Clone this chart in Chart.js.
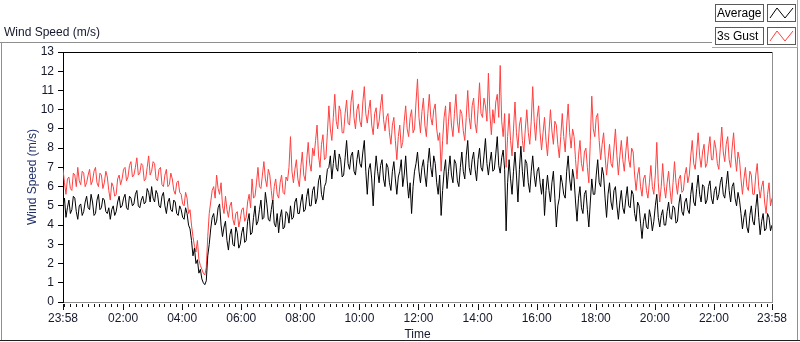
<!DOCTYPE html>
<html>
<head>
<meta charset="utf-8">
<script src="https://cdn.jsdelivr.net/npm/chart.js@4.4.0/dist/chart.umd.min.js"></script>
<style>
  html, body { margin: 0; padding: 0; background: #fff; }
  #wrap { position: relative; width: 800px; height: 342px; }
</style>
</head>
<body>
<div id="wrap"><canvas id="windChart" width="800" height="342"></canvas></div>
<script>
// ===== DATA =====
// one sample every 3 minutes, starting at 23:58
const stepMinutes = 3;
const seriesNames = ['Average', '3s Gust'];
const majorTickMinutes = [0, 122, 242, 362, 482, 602, 722, 842, 962, 1082, 1202, 1322, 1440];
const majorTickLabels = ['23:58', '02:00', '04:00', '06:00', '08:00', '10:00', '12:00',
                         '14:00', '16:00', '18:00', '20:00', '22:00', '23:58'];

const avgSpeed = [
    5.0, 5.4, 4.4, 4.9, 5.3, 4.6, 4.8, 5.5, 5.4, 4.7, 4.3, 5.0, 5.1, 4.5, 4.7, 5.2, 5.5, 4.9, 4.8, 5.6,
    5.2, 4.5, 4.6, 5.3, 5.6, 4.8, 4.9, 5.4, 5.3, 4.7, 4.6, 4.9, 4.3, 4.8, 5.0, 4.5, 4.7, 5.2, 5.5, 4.9,
    5.0, 5.4, 5.6, 4.9, 4.8, 5.5, 5.4, 5.0, 5.1, 5.6, 5.8, 5.0, 4.9, 5.3, 5.5, 5.1, 5.2, 5.9, 5.7, 5.2,
    6.0, 5.4, 5.2, 5.8, 5.6, 5.0, 4.9, 5.5, 5.7, 5.0, 4.6, 5.2, 5.4, 4.8, 4.7, 5.3, 5.2, 4.6, 4.5, 5.0,
    4.8, 4.4, 4.3, 4.9, 4.6, 4.0, 3.8, 3.2, 2.4, 2.8, 2.0, 2.2, 1.5, 1.7, 1.2, 1.0, 0.9, 1.1, 2.4, 3.0,
    3.8, 4.4, 4.6, 4.0, 4.2, 4.9, 5.1, 4.0, 3.4, 3.9, 4.2, 3.2, 2.7, 3.5, 3.8, 3.0, 2.9, 3.9, 3.6, 2.8,
    3.0, 3.6, 3.9, 3.1, 3.2, 4.2, 4.6, 3.5, 3.6, 4.4, 5.0, 4.0, 4.2, 4.8, 5.3, 4.3, 4.4, 5.7, 5.1, 4.3,
    4.2, 4.8, 5.3, 4.1, 3.9, 4.6, 3.6, 4.4, 4.8, 3.8, 3.9, 4.7, 4.6, 4.1, 5.0, 4.3, 4.4, 5.2, 5.4, 4.6,
    4.6, 5.2, 5.6, 4.7, 4.8, 5.5, 5.9, 5.0, 5.0, 5.8, 6.0, 5.1, 5.4, 6.3, 6.6, 5.6, 5.3, 6.0, 6.2, 6.9,
    7.0, 7.6, 6.4, 7.2, 7.9, 7.0, 6.8, 7.7, 7.4, 6.5, 6.6, 7.5, 8.4, 7.2, 6.9, 7.6, 7.8, 6.8, 6.6, 7.4,
    7.9, 7.2, 7.0, 7.8, 8.4, 6.8, 5.6, 6.9, 7.2, 6.4, 5.0, 6.6, 7.6, 6.8, 6.2, 7.1, 7.4, 6.4, 6.0, 7.2,
    7.0, 6.2, 5.8, 6.8, 7.3, 6.4, 5.6, 6.5, 6.8, 7.4, 6.0, 6.6, 7.6, 6.3, 5.4, 6.2, 4.6, 6.0, 6.8, 7.2,
    7.8, 6.8, 6.2, 7.0, 7.4, 6.6, 6.0, 7.2, 8.0, 7.0, 6.5, 7.6, 7.2, 6.2, 5.6, 6.6, 4.5, 5.8, 6.8, 7.4,
    5.9, 6.8, 7.6, 6.6, 6.2, 7.4, 7.2, 6.3, 6.0, 7.0, 7.8, 6.8, 6.4, 7.6, 8.4, 7.0, 6.6, 7.4, 7.8, 6.9,
    6.3, 7.4, 8.0, 7.0, 6.8, 7.6, 8.5, 7.2, 6.6, 7.3, 7.8, 6.8, 6.9, 7.7, 8.6, 7.1, 6.7, 7.5, 7.9, 6.9,
    3.7, 6.2, 7.4, 6.4, 5.6, 6.8, 7.8, 6.6, 5.2, 6.9, 8.1, 6.8, 6.0, 7.4, 7.2, 6.2, 5.7, 6.8, 7.6, 6.6,
    6.0, 6.8, 7.0, 6.2, 5.6, 6.4, 4.5, 5.8, 6.6, 5.8, 5.2, 6.2, 6.8, 5.4, 3.9, 5.0, 5.4, 6.6, 6.2, 5.6,
    5.4, 6.8, 7.6, 6.4, 5.8, 6.9, 6.4, 5.2, 4.2, 5.4, 6.0, 4.9, 4.6, 5.6, 5.8, 4.8, 3.9, 5.2, 6.4, 5.6,
    5.6, 6.6, 7.4, 6.2, 6.0, 7.0, 6.6, 5.4, 4.4, 5.6, 6.2, 5.2, 4.8, 5.8, 6.0, 5.0, 4.3, 5.2, 5.8, 4.9,
    4.6, 5.4, 6.0, 5.0, 4.9, 5.8, 5.6, 4.6, 4.2, 5.2, 5.0, 4.1, 3.3, 4.2, 4.6, 3.9, 3.8, 4.8, 4.4, 3.7,
    4.2, 5.0, 5.6, 4.4, 3.9, 4.5, 4.8, 4.0, 4.0, 4.7, 5.2, 4.4, 4.3, 5.0, 4.9, 4.1, 4.2, 5.1, 5.6, 4.7,
    4.5, 5.2, 5.4, 4.8, 4.6, 5.6, 6.2, 5.2, 5.0, 5.9, 6.6, 5.6, 5.2, 6.1, 6.0, 5.1, 5.3, 6.0, 6.3, 5.4,
    5.1, 5.8, 6.0, 5.3, 5.6, 6.2, 6.5, 5.6, 5.4, 6.1, 6.8, 5.8, 5.2, 6.0, 6.2, 5.4, 5.0, 5.7, 5.3, 4.6,
    3.8, 4.4, 4.8, 3.9, 3.6, 4.5, 5.0, 4.2, 4.0, 4.9, 5.6, 4.4, 3.5, 4.2, 4.6, 3.7, 3.8, 4.6, 4.4, 3.7, 4.0
];

const gustSpeed = [
    6.9, 6.2, 5.6, 6.4, 6.5, 5.9, 5.8, 6.7, 6.6, 6.0, 7.0, 6.3, 6.1, 6.8, 6.7, 6.0, 6.2, 6.6, 6.9, 6.1,
    6.3, 6.8, 7.0, 6.2, 6.0, 6.7, 6.6, 5.9, 6.2, 6.8, 6.5, 5.8, 5.3, 6.2, 6.0, 5.5, 5.6, 6.4, 6.6, 6.1,
    6.4, 6.9, 7.0, 6.3, 6.5, 7.1, 7.3, 6.5, 6.6, 7.0, 7.5, 6.6, 6.7, 7.2, 7.1, 6.3, 6.4, 7.0, 7.6, 6.6,
    6.8, 7.3, 7.2, 6.4, 6.3, 6.9, 7.0, 6.1, 6.0, 6.6, 6.9, 6.0, 6.1, 6.7, 6.4, 5.8, 5.6, 6.2, 6.3, 5.7,
    5.6, 5.1, 5.0, 5.7, 5.4, 4.6, 4.8, 4.0, 3.4, 2.9, 2.6, 3.2, 2.2, 1.9, 1.7, 1.5, 1.4, 1.8, 3.4, 4.6,
    5.2, 5.8, 6.0, 5.4, 6.6, 5.9, 5.6, 6.2, 5.0, 4.6, 5.5, 4.8, 4.4, 5.0, 5.2, 4.3, 4.0, 4.6, 4.7, 3.9,
    4.3, 4.8, 4.9, 4.2, 4.4, 5.2, 5.6, 4.9, 6.4, 5.4, 5.5, 6.2, 7.0, 6.0, 5.9, 6.6, 7.3, 6.4, 6.0, 6.9,
    6.6, 5.8, 5.1, 6.0, 6.4, 5.6, 5.4, 6.2, 6.6, 5.7, 5.6, 6.5, 6.3, 7.0, 8.6, 6.8, 6.2, 6.9, 7.4, 6.4,
    6.0, 7.0, 7.8, 6.6, 6.3, 7.4, 8.3, 7.2, 6.8, 8.0, 7.6, 8.4, 9.2, 7.6, 7.0, 8.2, 8.7, 7.4, 7.5, 8.8,
    10.2, 9.0, 8.4, 9.6, 10.8, 9.4, 9.0, 10.2, 9.9, 8.8, 8.8, 9.8, 10.5, 9.3, 9.2, 10.4, 11.0, 9.6, 9.0, 10.0,
    10.3, 9.4, 9.1, 10.4, 11.2, 9.8, 9.3, 10.0, 10.5, 9.2, 8.7, 9.8, 10.1, 9.0, 9.4, 10.2, 10.8, 9.5, 8.9, 9.6,
    9.8, 8.8, 8.2, 9.2, 9.6, 8.4, 7.4, 8.6, 9.2, 8.0, 8.3, 9.4, 10.2, 9.0, 8.6, 9.6, 10.0, 8.8, 9.0, 10.4,
    11.6, 9.6, 8.8, 9.9, 10.6, 9.2, 8.6, 9.8, 10.8, 9.6, 9.2, 10.0, 10.3, 9.0, 8.4, 8.8, 6.8, 8.4, 9.6, 10.2,
    8.2, 9.4, 10.4, 9.2, 8.6, 9.8, 10.8, 9.4, 8.8, 10.0, 9.8, 8.9, 8.4, 9.6, 11.0, 9.6, 9.0, 10.2, 10.6, 9.3,
    8.8, 10.0, 11.4, 9.8, 9.6, 10.6, 10.2, 9.4, 11.9, 9.8, 8.7, 10.0, 9.3, 10.4, 10.8, 9.6, 12.3, 9.4, 8.6, 9.8,
    7.0, 8.6, 9.8, 8.4, 7.6, 9.0, 10.4, 8.8, 8.0, 9.2, 9.6, 8.4, 7.8, 9.0, 10.0, 8.8, 8.2, 9.4, 11.2, 9.4,
    8.4, 9.6, 10.2, 8.8, 7.9, 8.8, 9.6, 8.4, 7.6, 8.8, 10.0, 8.9, 8.2, 9.4, 9.2, 8.2, 7.5, 8.6, 9.8, 8.6,
    7.8, 9.2, 10.3, 8.8, 8.0, 9.0, 8.6, 7.4, 6.4, 7.6, 8.4, 7.2, 6.8, 7.8, 8.0, 7.0, 6.2, 8.4, 10.7, 9.0,
    8.6, 9.6, 9.8, 8.4, 7.4, 8.2, 8.8, 7.6, 6.6, 7.4, 8.2, 7.2, 7.0, 8.0, 9.0, 7.6, 6.6, 7.6, 8.4, 7.4,
    6.8, 7.8, 8.6, 7.4, 7.0, 8.0, 7.8, 6.6, 5.8, 6.6, 7.0, 6.0, 5.5, 6.4, 6.6, 5.8, 5.4, 6.2, 7.1, 6.0,
    5.6, 6.6, 8.3, 6.2, 5.2, 6.0, 7.2, 6.0, 5.4, 6.2, 6.8, 5.8, 5.1, 6.2, 7.3, 6.2, 5.6, 6.4, 6.6, 5.7,
    5.8, 6.6, 7.0, 6.2, 6.6, 7.6, 8.4, 7.2, 6.9, 7.8, 8.8, 7.6, 7.0, 7.8, 8.2, 7.0, 7.2, 8.0, 8.6, 7.4,
    7.4, 8.4, 8.0, 7.2, 6.9, 8.0, 9.1, 7.8, 7.3, 8.2, 8.6, 7.4, 7.0, 8.0, 8.8, 7.6, 6.8, 7.8, 7.4, 6.4,
    5.6, 6.4, 7.0, 6.0, 5.8, 6.8, 6.6, 5.6, 5.6, 6.6, 7.2, 6.0, 5.4, 6.0, 6.3, 5.2, 4.6, 5.6, 6.2, 5.0, 5.4
];

const FONT = { family: '"Liberation Sans", Arial, sans-serif', size: 12 };
const TEXT_DARK = '#15182c';

function toPoints(arr) {
    return arr.map(function(v, i) { return { x: i * stepMinutes, y: v }; });
}

// ===== FRAME, TITLE, LEGEND AND X TICK MARKS (LabVIEW look) =====
const labviewFrame = {
    id: 'labviewFrame',
    afterDraw: function(chart) {
        const c = chart.ctx;
        const a = chart.chartArea;
        const xs = chart.scales.x;
        c.save();
        c.lineWidth = 1;

        // outer frame
        c.strokeStyle = '#8f8f8f';
        c.beginPath();
        c.moveTo(0, 42.5); c.lineTo(712, 42.5);
        c.moveTo(1.5, 42.5); c.lineTo(1.5, 341);
        c.moveTo(797.5, 48); c.lineTo(797.5, 341);
        c.stroke();
        c.strokeStyle = '#202020';
        c.beginPath();
        c.moveTo(0, 340.5); c.lineTo(800, 340.5);
        c.stroke();

        // plot box: top black, right grey
        c.strokeStyle = '#000';
        c.beginPath();
        c.moveTo(a.left, a.top + 0.5); c.lineTo(a.right, a.top + 0.5);
        c.stroke();
        c.strokeStyle = '#8f8f8f';
        c.beginPath();
        c.moveTo(a.right + 0.5, a.top); c.lineTo(a.right + 0.5, a.bottom + 1);
        c.stroke();

        // x tick marks: long majors, short minors every 12 min
        c.strokeStyle = '#111';
        c.beginPath();
        majorTickMinutes.forEach(function(m) {
            const px = Math.round(xs.getPixelForValue(m)) + 0.5;
            c.moveTo(px, a.bottom + 2); c.lineTo(px, a.bottom + 8);
        });
        for (let m = 2; m < 1440; m += 12) {
            if (majorTickMinutes.indexOf(m) >= 0) continue;
            const px = Math.round(xs.getPixelForValue(m)) + 0.5;
            c.moveTo(px, a.bottom + 2); c.lineTo(px, a.bottom + 5);
        }
        c.stroke();

        // graph caption top-left
        c.fillStyle = TEXT_DARK;
        c.font = FONT.size + 'px ' + FONT.family;
        c.textBaseline = 'alphabetic';
        c.textAlign = 'left';
        c.fillText('Wind Speed (m/s)', 4, 36);

        // legend panel top-right
        c.fillStyle = '#fff';
        c.fillRect(712, 0, 86, 48);
        c.strokeStyle = '#a8a8a8';
        c.beginPath();
        c.moveTo(712, 47.5); c.lineTo(798, 47.5);
        c.moveTo(797.5, 0); c.lineTo(797.5, 48);
        c.stroke();

        chart.data.datasets.forEach(function(ds, i) {
            const top = 4 + i * 23;
            c.strokeStyle = '#5a5a5a';
            c.strokeRect(715.5, top + 0.5, 48, 17);
            c.strokeRect(767.5, top + 0.5, 28, 17);
            c.fillStyle = '#000';
            c.textBaseline = 'middle';
            c.fillText(ds.label, 717, top + 9.5);
            c.strokeStyle = ds.borderColor;
            c.beginPath();
            c.moveTo(770, top + 14); c.lineTo(777, top + 4);
            c.lineTo(785, top + 14); c.lineTo(793, top + 4);
            c.stroke();
        });
        c.restore();
    }
};

// ===== CHART =====
new Chart(document.getElementById('windChart'), {
    type: 'line',
    data: {
        datasets: [
            {
                label: seriesNames[0],
                data: toPoints(avgSpeed),
                borderColor: '#000000',
                borderWidth: 1
            },
            {
                label: seriesNames[1],
                data: toPoints(gustSpeed),
                borderColor: '#ff4040',
                borderWidth: 1
            }
        ]
    },
    plugins: [labviewFrame],
    options: {
        responsive: false,
        animation: false,
        layout: { padding: { left: 0, right: 28, top: 52, bottom: 0 } },
        elements: {
            point: { radius: 0 },
            line: { tension: 0 }
        },
        plugins: {
            legend: { display: false },
            tooltip: { enabled: false }
        },
        scales: {
            x: {
                type: 'linear',
                min: 0,
                max: 1440,
                afterBuildTicks: function(scale) {
                    scale.ticks = majorTickMinutes.map(function(m) { return { value: m }; });
                },
                afterFit: function(scale) { scale.height = 40; },
                grid: { display: false, drawTicks: false },
                border: { display: true, color: '#8f8f8f', width: 1 },
                ticks: {
                    autoSkip: false,
                    maxRotation: 0,
                    padding: 9,
                    color: TEXT_DARK,
                    font: FONT,
                    callback: function(value, index) { return majorTickLabels[index]; }
                },
                title: {
                    display: true,
                    text: 'Time',
                    color: TEXT_DARK,
                    font: FONT,
                    padding: 0
                }
            },
            y: {
                min: 0,
                max: 13,
                afterFit: function(scale) { scale.width = 63; },
                ticks: {
                    stepSize: 1,
                    padding: 4,
                    color: TEXT_DARK,
                    font: FONT
                },
                grid: {
                    drawOnChartArea: false,
                    drawTicks: true,
                    tickLength: 5,
                    color: '#000'
                },
                border: { display: true, color: '#000', width: 1 },
                title: {
                    display: true,
                    text: 'Wind Speed (m/s)',
                    color: '#22306a',
                    font: FONT,
                    padding: { top: 25, bottom: 0 }
                }
            }
        }
    }
});
</script>
</body>
</html>
